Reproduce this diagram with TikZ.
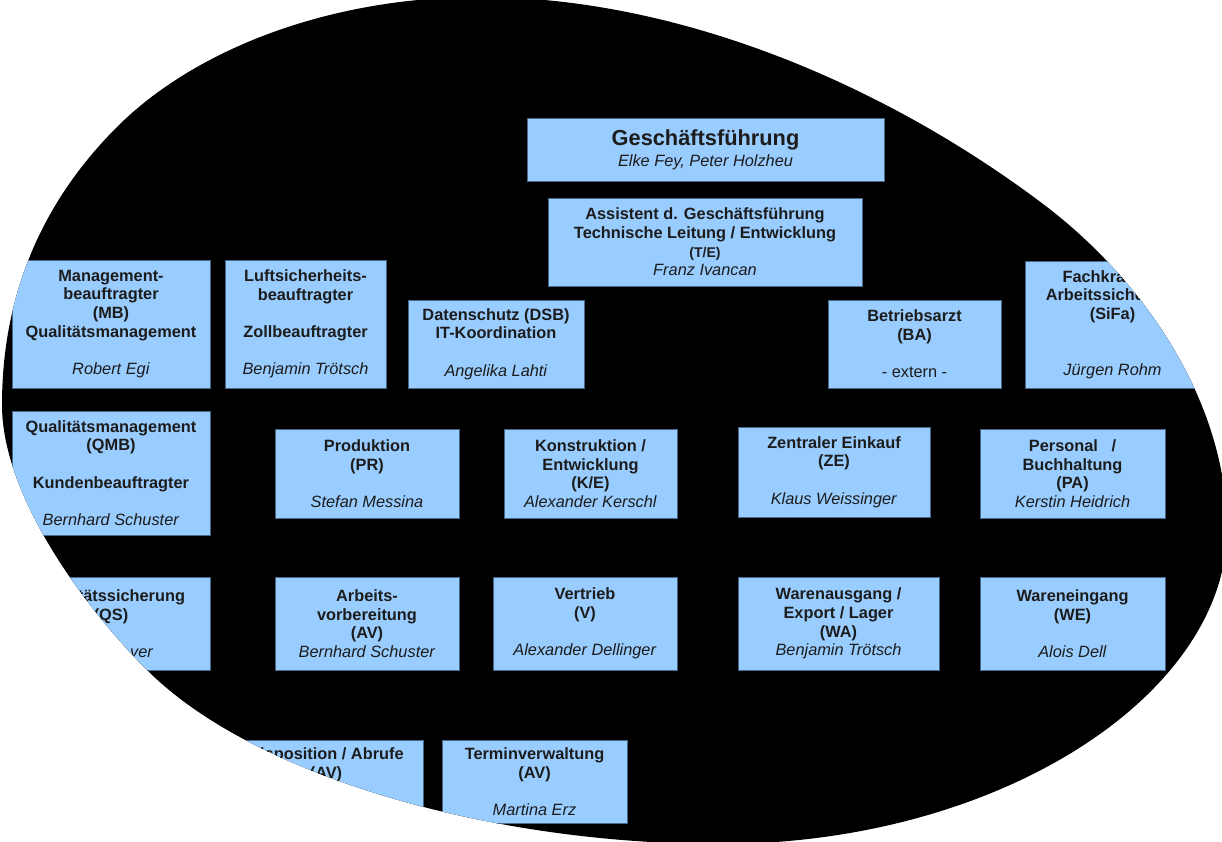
\documentclass[tikz,border=0pt]{standalone}
\usepackage{fontspec}
\setmainfont{Liberation Sans}
\usetikzlibrary{fit}
\definecolor{boxblue}{RGB}{153,204,255}
\definecolor{boxline}{RGB}{72,104,138}
\definecolor{ink}{RGB}{28,28,28}
\newcommand{\gap}{\\[10.6pt]}
\newcommand{\who}[1]{\textit{#1}}

\begin{document}
\begin{tikzpicture}[x=0.02cm, y=-0.02cm,
    unit/.style={draw=boxline, fill=boxblue, line width=0.5pt, inner sep=0pt},
    txt/.style={align=center, text=ink, inner sep=0pt, font=\fontsize{9.3}{10.6}\selectfont}]
\useasboundingbox (0,0) rectangle (1222,841);
\def\blob{(2,405) .. controls (2,280) and (53,191) .. (117,127) .. controls (195,49) and (330,-3) .. (480,-3)
  .. controls (680,-3) and (888,86) .. (1047,207) .. controls (1142,280) and (1227,400) .. (1227,530)
  .. controls (1226,695) and (999,844) .. (720,844)
  .. controls (490,844) and (253,776) .. (147,670) .. controls (83,606) and (2,495) .. (2,405) -- cycle}
\fill[black] \blob;
\begin{scope}
  \clip \blob;
  % top
  \node[unit, fit={(527,118) (884,181)}] (gf) {};
  \node[txt] (gf-t) at (gf) {{\fontsize{12.4}{13}\selectfont\textbf{Geschäftsführung}}\\[1.5pt]\who{Elke Fey, Peter Holzheu}};
  \node[unit, fit={(548,198) (862,286)}] (te) {};
  \node[txt] (te-t) at (te) {\textbf{Assistent d. Geschäftsführung}\\\textbf{Technische Leitung / Entwicklung}\\{\fontsize{8}{10}\selectfont\textbf{(T/E)}}\\\who{Franz Ivancan}};
  % staff
  \node[unit, fit={(12,260) (210,388)}] (mb) {};
  \node[txt] (mb-t) at (mb) {\textbf{Management-}\\\textbf{beauftragter}\\\textbf{(MB)}\\\textbf{Qualitätsmanagement}\gap\who{Robert Egi}};
  \node[unit, fit={(225,260) (386,388)}] (lsb) {};
  \node[txt] (lsb-t) at (lsb) {\textbf{Luftsicherheits-}\\\textbf{beauftragter}\gap\textbf{Zollbeauftragter}\gap\who{Benjamin Trötsch}};
  \node[unit, fit={(408,300) (584,388)}] (dsb) {};
  \node[txt] (dsb-t) at (dsb) {\textbf{Datenschutz (DSB)}\\\textbf{IT-Koordination}\gap\who{Angelika Lahti}};
  \node[unit, fit={(828,300) (1001,388)}] (ba) {};
  \node[txt] (ba-t) at (ba) {\textbf{Betriebsarzt}\\\textbf{(BA)}\gap - extern -};
  \node[unit, fit={(1025,261) (1200,388)}] (sifa) {};
  \node[txt] (sifa-t) at (sifa) {\textbf{Fachkraft für}\\\textbf{Arbeitssicherheit}\\\textbf{(SiFa)}\\[21.2pt]\who{Jürgen Rohm}};
  % departments
  \node[unit, fit={(12,411) (210,535)}] (qmb) {};
  \node[txt] (qmb-t) at (qmb) {\textbf{Qualitätsmanagement}\\\textbf{(QMB)}\gap\textbf{Kundenbeauftragter}\gap\who{Bernhard Schuster}};
  \node[unit, fit={(275,429) (459,518)}] (pr) {};
  \node[txt] (pr-t) at (pr) {\textbf{Produktion}\\\textbf{(PR)}\gap\who{Stefan Messina}};
  \node[unit, fit={(504,429) (677,518)}] (ke) {};
  \node[txt] (ke-t) at (ke) {\textbf{Konstruktion /}\\\textbf{Entwicklung}\\\textbf{(K/E)}\\\who{Alexander Kerschl}};
  \node[unit, fit={(738,427) (930,517)}] (ze) {};
  \node[txt] (ze-t) at (ze) {\textbf{Zentraler Einkauf}\\\textbf{(ZE)}\gap\who{Klaus Weissinger}};
  \node[unit, fit={(980,429) (1165,518)}] (pa) {};
  \node[txt] (pa-t) at (pa) {\textbf{Personal\ \ \ /}\\\textbf{Buchhaltung}\\\textbf{(PA)}\\\who{Kerstin Heidrich}};
  \node[unit, fit={(12,577) (210,670)}] (qs) {};
  \node[txt] (qs-t) at (qs) {\textbf{Qualitätssicherung}\\\textbf{(QS)}\gap\hspace*{35pt}\who{ver}};
  \node[unit, fit={(275,577) (459,670)}] (av) {};
  \node[txt] (av-t) at (av) {\textbf{Arbeits-}\\\textbf{vorbereitung}\\\textbf{(AV)}\\\who{Bernhard Schuster}};
  \node[unit, fit={(493,577) (677,670)}] (v) {};
  \node[txt] (v-t) at (v) {\textbf{Vertrieb}\\\textbf{(V)}\gap\who{Alexander Dellinger}};
  \node[unit, fit={(738,577) (939,670)}] (wa) {};
  \node[txt] (wa-t) at (wa) {\textbf{Warenausgang /}\\\textbf{Export / Lager}\\\textbf{(WA)}\\\who{Benjamin Trötsch}};
  \node[unit, fit={(980,577) (1165,670)}] (we) {};
  \node[txt] (we-t) at (we) {\textbf{Wareneingang}\\\textbf{(WE)}\gap\who{Alois Dell}};
  % planning
  \node[unit, fit={(229,740) (423,823)}] (dispo) {};
  \node[txt] (dispo-t) at (dispo) {\textbf{Disposition / Abrufe}\\\textbf{(AV)}\gap\mbox{}};
  \node[unit, fit={(442,740) (627,823)}] (tv) {};
  \node[txt] (tv-t) at (tv) {\textbf{Terminverwaltung}\\\textbf{(AV)}\gap\who{Martina Erz}};
\end{scope}
\end{tikzpicture}
\end{document}
